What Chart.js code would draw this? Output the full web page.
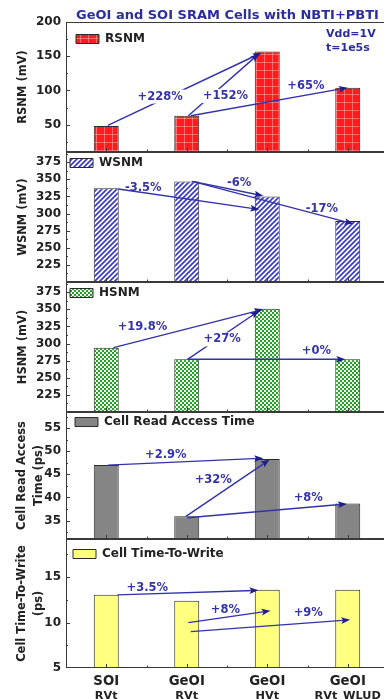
<!DOCTYPE html>
<html>
<head>
<meta charset="utf-8">
<title>GeOI and SOI SRAM Cells with NBTI+PBTI</title>
<script src="https://cdn.jsdelivr.net/npm/chart.js@4.4.1/dist/chart.umd.min.js"></script>
<style>
  html, body { margin: 0; padding: 0; background: #fff; }
  #wrap { position: relative; width: 384px; height: 699px; overflow: hidden; font-family: "DejaVu Sans", sans-serif; font-weight: bold; }
  #wrap canvas { position: absolute; left: 0; }
  .note { position: absolute; color: #2d2d9e; white-space: nowrap; }
</style>
</head>
<body>
<div id="wrap">
  <canvas id="rsnmChart" width="392" height="162" style="top:6px"></canvas>
  <canvas id="wsnmChart" width="392" height="162" style="top:136px"></canvas>
  <canvas id="hsnmChart" width="392" height="162" style="top:266px"></canvas>
  <canvas id="readChart" width="392" height="159" style="top:396px"></canvas>
  <canvas id="writeChart" width="392" height="176" style="top:523px"></canvas>
  <div class="note" style="left:76px;top:7px;font-size:13px;line-height:15px">GeOI and SOI SRAM Cells with NBTI+PBTI</div>
  <div class="note" style="left:326px;top:27px;font-size:11px;line-height:14px">Vdd=1V<br>t=1e5s</div>
</div>
<script>
// ── DATA
const categories = ["SOI", "GeOI", "GeOI", "GeOI"];
const subLabels = ["RVt", "RVt", "HVt", "RVt_WLUD"];

const rsnm = [48, 63, 157, 104];
const wsnm = [337, 347, 325, 289];
const hsnm = [294, 277, 351, 277];
const readAccess = [47.0, 35.9, 48.3, 38.7];
const timeToWrite = [13.05, 12.4, 13.6, 13.6];

const rsnmTicks = [50, 100, 150, 200];
const snmTicks = [225, 250, 275, 300, 325, 350, 375];
const readTicks = [35, 40, 45, 50, 55];
const writeTicks = [5, 10, 15];

// arrows: [category, value] -> [category, value], label at [category, value]
const rsnmNotes = [
  { from: [0.02, 49], to: [1.93, 155], text: "+228%", at: [0.67, 91], clear: true },
  { from: [1.02, 63], to: [1.9, 154], text: "+152%", at: [1.48, 92], clear: true },
  { from: [1.05, 63], to: [3.0, 104], text: "+65%", at: [2.48, 107] },
];
const wsnmNotes = [
  { from: [0.15, 336], to: [1.9, 306], text: "-3.5%", at: [0.46, 338] },
  { from: [1.07, 347], to: [1.95, 326], text: "-6%", at: [1.65, 345] },
  { from: [1.07, 347], to: [3.07, 285], text: "-17%", at: [2.68, 306] },
];
const hsnmNotes = [
  { from: [0.09, 294], to: [1.95, 350], text: "+19.8%", at: [0.45, 324] },
  { from: [1.01, 277], to: [1.9, 348], text: "+27%", at: [1.44, 306], clear: true },
  { from: [1.01, 277], to: [2.97, 277], text: "+0%", at: [2.61, 289] },
];
const readNotes = [
  { from: [0.02, 47], to: [1.95, 48.5], text: "+2.9%", at: [0.74, 49.2] },
  { from: [0.99, 35.9], to: [2.03, 48.2], text: "+32%", at: [1.33, 43.8] },
  { from: [1.01, 35.6], to: [2.99, 38.6], text: "+8%", at: [2.51, 39.9] },
];
const writeNotes = [
  { from: [0.14, 13.05], to: [1.89, 13.55], text: "+3.5%", at: [0.51, 13.85] },
  { from: [1.02, 10.0], to: [2.04, 11.3], text: "+8%", at: [1.48, 11.4] },
  { from: [1.05, 9.0], to: [3.03, 10.3], text: "+9%", at: [2.51, 11.1] },
];

Chart.defaults.font.family = '"DejaVu Sans", sans-serif';
Chart.defaults.font.weight = "bold";
Chart.defaults.color = "#222";

// ── FILL PATTERNS
function makePattern(size, draw) {
  const c = document.createElement("canvas");
  c.width = size;
  c.height = size;
  const g = c.getContext("2d");
  draw(g, size);
  return g.createPattern(c, "repeat");
}

const redGrid = makePattern(8, (g, n) => {
  g.fillStyle = "#ff1c1c";
  g.fillRect(0, 0, n, n);
  g.fillStyle = "rgba(255,160,160,0.6)";
  g.fillRect(0, 0, n, 1);
  g.fillRect(0, 0, 1, n);
});

const blueHatch = makePattern(5, (g, n) => {
  g.fillStyle = "#fff";
  g.fillRect(0, 0, n, n);
  g.strokeStyle = "#3b3bd2";
  g.lineWidth = 1.7;
  g.beginPath();
  g.moveTo(-1, n + 1); g.lineTo(n + 1, -1);
  g.moveTo(-n / 2 - 1, n / 2 + 1); g.lineTo(n / 2 + 1, -n / 2 - 1);
  g.moveTo(n / 2 - 1, 1.5 * n + 1); g.lineTo(1.5 * n + 1, n / 2 - 1);
  g.stroke();
});

const greenDots = makePattern(4, (g, n) => {
  g.fillStyle = "#2c9a2c";
  g.fillRect(0, 0, n, n);
  g.fillStyle = "#eaffea";
  g.fillRect(0, 0, 2, 2);
  g.fillRect(2, 2, 2, 2);
});

// ── FRAME AND INWARD TICKS
const frame = {
  id: "frame",
  afterDraw(chart) {
    const { ctx, chartArea: a, scales: { x, y } } = chart;
    ctx.save();
    ctx.strokeStyle = "#3a3a3a";
    ctx.lineWidth = 1;
    ctx.strokeRect(a.left + 0.5, a.top + 0.5, a.width - 1, a.height - 1);
    ctx.beginPath();
    const vals = y.ticks.map((t) => t.value);
    const half = (vals[1] - vals[0]) / 2;
    for (let k = -1; k < vals.length * 2; k++) {
      const v = vals[0] + k * half;
      if (v <= y.min || v >= y.max) continue;
      const py = Math.round(y.getPixelForValue(v)) + 0.5;
      const len = k % 2 === 0 ? 4 : 2;
      ctx.moveTo(a.left, py); ctx.lineTo(a.left + len, py);
      ctx.moveTo(a.right, py); ctx.lineTo(a.right - len, py);
    }
    for (let k = -1; k <= categories.length * 2; k++) {
      const px = Math.round(x.getPixelForValue(k / 2)) + 0.5;
      if (px <= a.left || px >= a.right) continue;
      const len = k % 2 === 0 ? 4 : 2.5;
      ctx.moveTo(px, a.bottom); ctx.lineTo(px, a.bottom - len);
    }
    ctx.stroke();
    ctx.restore();
  },
};

// ── ARROWS AND PERCENT LABELS
function notesPlugin(notes) {
  return {
    id: "notes",
    afterDatasetsDraw(chart) {
      const { ctx, scales: { x, y } } = chart;
      const pt = (p) => [x.getPixelForValue(p[0]), y.getPixelForValue(p[1])];
      ctx.save();
      notes.forEach((n) => {
        const [x0, y0] = pt(n.from);
        const [x1, y1] = pt(n.to);
        const ang = Math.atan2(y1 - y0, x1 - x0);
        const c = Math.cos(ang), s = Math.sin(ang);
        ctx.strokeStyle = "#3232aa";
        ctx.lineWidth = 1.4;
        ctx.beginPath();
        ctx.moveTo(x0, y0);
        ctx.lineTo(x1 - 4 * c, y1 - 4 * s);
        ctx.stroke();
        ctx.fillStyle = "#1e1e8e";
        ctx.beginPath();
        ctx.moveTo(x1, y1);
        ctx.lineTo(x1 - 9 * c + 3.4 * s, y1 - 9 * s - 3.4 * c);
        ctx.lineTo(x1 - 7 * c, y1 - 7 * s);
        ctx.lineTo(x1 - 9 * c - 3.4 * s, y1 - 9 * s + 3.4 * c);
        ctx.closePath();
        ctx.fill();
      });
      ctx.font = 'bold 11.5px "DejaVu Sans"';
      ctx.textAlign = "center";
      ctx.textBaseline = "middle";
      notes.forEach((n) => {
        const [lx, ly] = pt(n.at);
        if (n.clear) {
          const w = ctx.measureText(n.text).width;
          ctx.fillStyle = "#fff";
          ctx.fillRect(lx - w / 2 - 2, ly - 7, w + 4, 14);
        }
        ctx.fillStyle = "#3434a8";
        ctx.fillText(n.text, lx, ly);
      });
      ctx.restore();
    },
  };
}

// ── PANELS
function buildPanel(id, p) {
  const twoLines = Array.isArray(p.title);
  const scales = {
    x: {
      type: "category",
      display: !!p.last,
      weight: 0,
      offset: true,
      grid: { display: false, drawTicks: false },
      border: { display: false },
      ticks: { padding: 6, color: "#222", font: { size: 13.3, weight: "bold" } },
    },
    y: {
      min: p.min,
      max: p.max,
      afterFit: (s) => { s.width = 66; },
      afterBuildTicks: (s) => { s.ticks = p.ticks.map((v) => ({ value: v })); },
      grid: { display: false, drawTicks: false },
      border: { display: false },
      ticks: { padding: 5, color: "#222", font: { size: 12, weight: "bold" } },
      title: {
        display: true,
        text: p.title,
        color: "#222",
        font: { size: 11.5, weight: "bold", lineHeight: twoLines ? 1.45 : 1.2 },
        padding: { top: twoLines ? 13.6 : 16, bottom: 0 },
      },
    },
  };
  if (p.last) {
    scales.x.afterFit = (s) => { s.height = 20; };
    scales.x2 = {
      type: "category",
      position: "bottom",
      labels: subLabels,
      weight: 1,
      offset: true,
      grid: { display: false, drawTicks: false },
      border: { display: false },
      ticks: { padding: 1, color: "#222", font: { size: 11.3, weight: "bold" } },
      afterFit: (s) => { s.height = 11; },
    };
  }

  return new Chart(document.getElementById(id), {
    type: "bar",
    data: {
      labels: categories,
      datasets: [{
        label: p.label,
        data: p.data,
        backgroundColor: p.fill,
        borderColor: "#2a2a2a",
        borderWidth: 1,
        barPercentage: 0.31,
        categoryPercentage: 1,
      }],
    },
    options: {
      responsive: false,
      devicePixelRatio: 1,
      animation: false,
      events: [],
      layout: { padding: { top: 16, bottom: p.last ? 0 : 16, left: 0, right: 4 } },
      scales,
      plugins: {
        tooltip: { enabled: false },
        legend: {
          position: "chartArea",
          align: "start",
          title: { display: true, text: "", font: { size: 1, lineHeight: 1 }, padding: { top: p.legendDrop, bottom: 0 } },
          labels: {
            boxWidth: 23,
            boxHeight: 9,
            padding: p.legendPad,
            color: "#222",
            font: { size: 12, weight: "bold" },
          },
        },
      },
    },
    plugins: [frame, notesPlugin(p.notes)],
  });
}

buildPanel("rsnmChart", {
  label: "RSNM", data: rsnm, fill: redGrid, min: 10, max: 200, ticks: rsnmTicks,
  title: "RSNM (mV)", legendPad: 10, legendDrop: 16, notes: rsnmNotes,
});
buildPanel("wsnmChart", {
  label: "WSNM", data: wsnm, fill: blueHatch, min: 200, max: 390, ticks: snmTicks,
  title: "WSNM (mV)", legendPad: 4, legendDrop: 16, notes: wsnmNotes,
});
buildPanel("hsnmChart", {
  label: "HSNM", data: hsnm, fill: greenDots, min: 200, max: 390, ticks: snmTicks,
  title: "HSNM (mV)", legendPad: 4, legendDrop: 16, notes: hsnmNotes,
});
buildPanel("readChart", {
  label: "Cell Read Access Time", data: readAccess, fill: "#858585", min: 31, max: 58.5, ticks: readTicks,
  title: ["Cell Read Access", "Time (ps)"], legendPad: 9, legendDrop: 10, notes: readNotes,
});
buildPanel("writeChart", {
  label: "Cell Time-To-Write", data: timeToWrite, fill: "#ffff80", min: 5, max: 19.2, ticks: writeTicks,
  title: ["Cell Time-To-Write", "(ps)"], legendPad: 7, legendDrop: 17, notes: writeNotes, last: true,
});
</script>
</body>
</html>
